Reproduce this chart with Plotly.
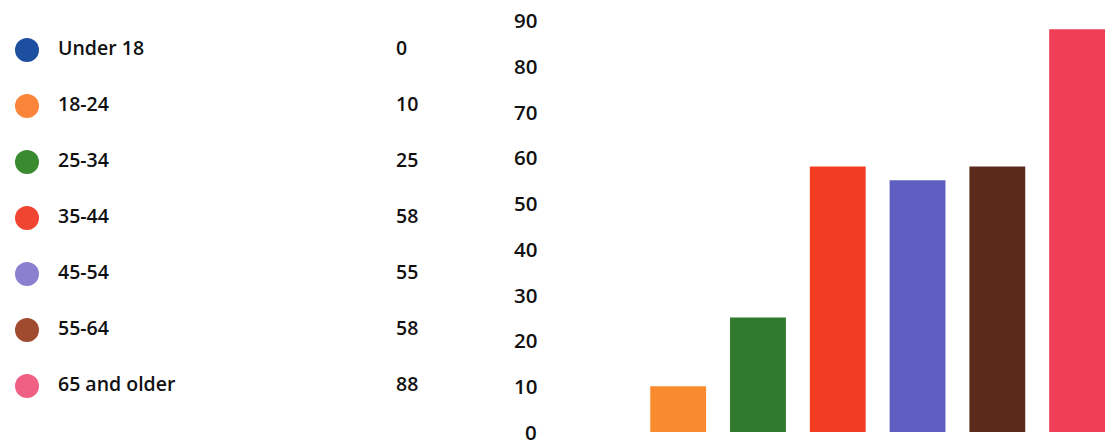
import plotly.graph_objects as go

# Age groups and counts
age_groups = ["Under 18", "18-24", "25-34", "35-44", "45-54", "55-64", "65 and older"]
counts = [0, 10, 25, 58, 55, 58, 88]
y_ticks = [0, 10, 20, 30, 40, 50, 60, 70, 80, 90]

# Colours for the bars and for the key dots
bar_colors = ["#1f4fa0", "#f98a2e", "#2f7a2c", "#f23d22", "#5e5fc0", "#5c2a1a", "#ef3e55"]
dot_colors = ["#1c4fa0", "#f9843a", "#3a8a30", "#f04530", "#8a80d0", "#a04a30", "#f06085"]

FONT = "Open Sans"
rows = list(range(len(age_groups)))

fig = go.Figure()

# Bar chart on the right half
fig.add_trace(go.Bar(
    x=age_groups, y=counts,
    marker=dict(color=bar_colors, line=dict(width=0)),
    xaxis="x", yaxis="y", showlegend=False, hoverinfo="x+y",
))

# Key on the left: coloured dots, group names and counts
fig.add_trace(go.Scatter(
    x=[27] * len(rows), y=rows, mode="markers",
    marker=dict(size=24, color=dot_colors, line=dict(width=0)),
    xaxis="x2", yaxis="y2", showlegend=False, hoverinfo="skip",
))
fig.add_trace(go.Scatter(
    x=[58] * len(rows), y=rows, mode="text",
    text=age_groups, textposition="middle right",
    textfont=dict(family=FONT, size=19.5, color="#111111", weight=600),
    xaxis="x2", yaxis="y2", showlegend=False, hoverinfo="skip",
))
fig.add_trace(go.Scatter(
    x=[396] * len(rows), y=rows, mode="text",
    text=[str(c) for c in counts], textposition="middle right",
    textfont=dict(family=FONT, size=19.5, color="#111111", weight=600),
    xaxis="x2", yaxis="y2", showlegend=False, hoverinfo="skip",
))

# Value scale labels on the bar chart's y scale, right-aligned left of the bars
for t in y_ticks:
    fig.add_annotation(
        xref="paper", yref="y", x=538 / 1117, y=t,
        xanchor="right", yanchor="middle", showarrow=False,
        text=str(t), borderpad=0,
        font=dict(family=FONT, size=20.5, color="#111111", weight=600),
    )

fig.update_layout(
    width=1117, height=441,
    margin=dict(l=0, r=0, t=0, b=0),
    paper_bgcolor="white", plot_bgcolor="white",
    bargap=0.3,
    xaxis=dict(domain=[0.5, 1], showticklabels=False, showgrid=False,
               zeroline=False, showline=False, ticks=""),
    yaxis=dict(range=[-1.966, 94.37], tickvals=y_ticks, showticklabels=False,
               showgrid=False, zeroline=False, showline=False, ticks=""),
    xaxis2=dict(domain=[0, 0.5], range=[0, 558.5], visible=False),
    yaxis2=dict(domain=[0, 1], range=[6.982, -0.893], visible=False, anchor="x2"),
)

fig.write_html("out.html")
